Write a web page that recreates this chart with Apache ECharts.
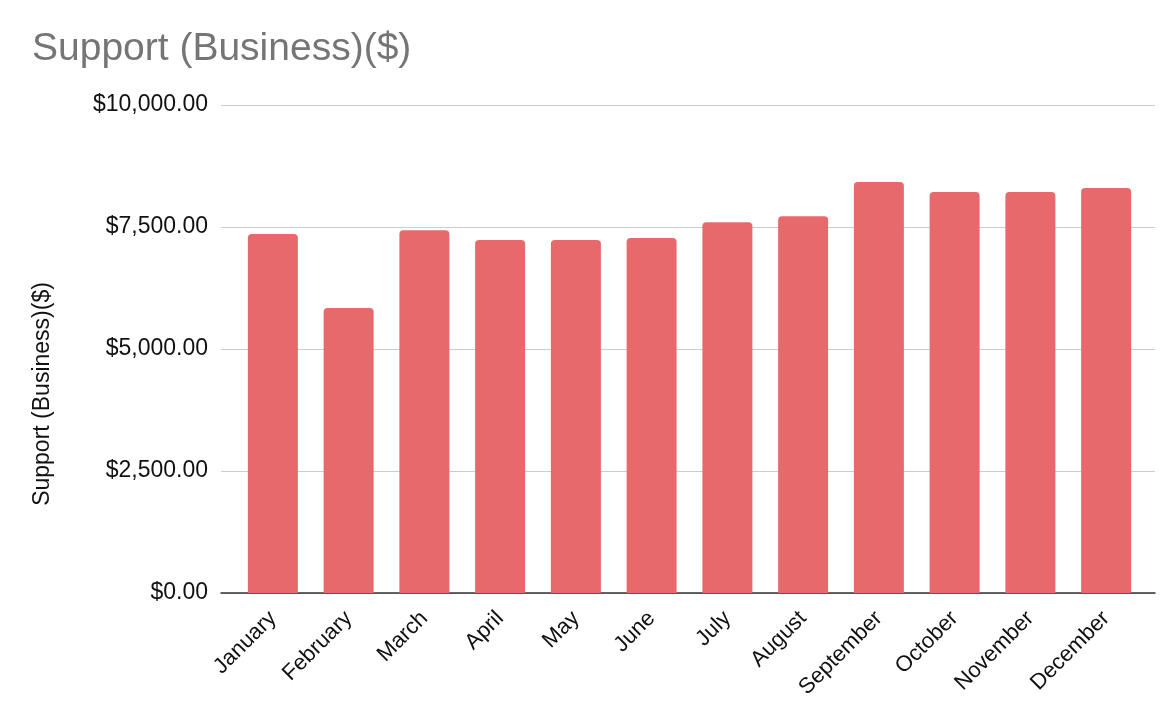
<!DOCTYPE html>
<html><head><meta charset="utf-8">
<script src="https://cdn.jsdelivr.net/npm/echarts@6/dist/echarts.min.js"></script>
<style>html,body{margin:0;padding:0;background:#fff}#c{width:1176px;height:720px}</style>
</head><body><div id="c"></div>
<script>
const categories = ['January','February','March','April','May','June','July','August','September','October','November','December'];
const values = [7355, 5840, 7435, 7235, 7235, 7275, 7595, 7720, 8420, 8215, 8215, 8300];
const yTicks = [0, 2500, 5000, 7500, 10000];
const titleText = 'Support (Business)($)';
const axisName = 'Support (Business)($)';

const FF = "'Liberation Sans', Arial, sans-serif";
const chart = echarts.init(document.getElementById('c'));
const fmt = v => '$' + v.toLocaleString('en-US', {minimumFractionDigits: 2, maximumFractionDigits: 2});
const yMin = yTicks[0], yMax = yTicks[yTicks.length-1], yStep = yTicks[1] - yTicks[0];
chart.setOption({
  animation: false,
  title: {text: titleText, left: 27, top: 25, textStyle: {fontFamily: FF, fontSize: 39, fontWeight: 'normal', color: '#757575'}},
  grid: [
    {left: 221, right: 21, top: 105, bottom: 127},
    {left: 235, right: 32, top: 105, bottom: 127}
  ],
  xAxis: [
    {type: 'value', gridIndex: 0, min: 0, max: 1, axisLabel: {show: false}, axisTick: {show: false}, splitLine: {show: false},
     axisLine: {show: true, lineStyle: {color: '#333', width: 1.5}}},
    {type: 'category', gridIndex: 1, data: categories,
     axisLine: {show: false}, axisTick: {show: false},
     axisLabel: {rotate: 45, fontFamily: FF, fontSize: 22, color: '#111', margin: 22, interval: 0}}
  ],
  yAxis: [
    {type: 'value', gridIndex: 0, min: yMin, max: yMax, interval: yStep,
     name: axisName, nameLocation: 'middle', nameGap: 167, nameRotate: 90,
     nameTextStyle: {fontFamily: FF, fontSize: 23, color: '#111', padding: [0, 90, 0, 0]},
     axisLabel: {formatter: fmt, fontFamily: FF, fontSize: 23, color: '#111', margin: 13},
     splitLine: {lineStyle: {color: '#cccccc', width: 1}},
     axisLine: {show: false}, axisTick: {show: false}},
    {type: 'value', gridIndex: 1, min: yMin, max: yMax, interval: yStep, show: false, splitLine: {show: false}}
  ],
  series: [{
    type: 'bar', xAxisIndex: 1, yAxisIndex: 1, data: values, barCategoryGap: '34%',
    itemStyle: {color: '#e8696b', borderRadius: [4,4,0,0]}
  }]
});
</script></body></html>
